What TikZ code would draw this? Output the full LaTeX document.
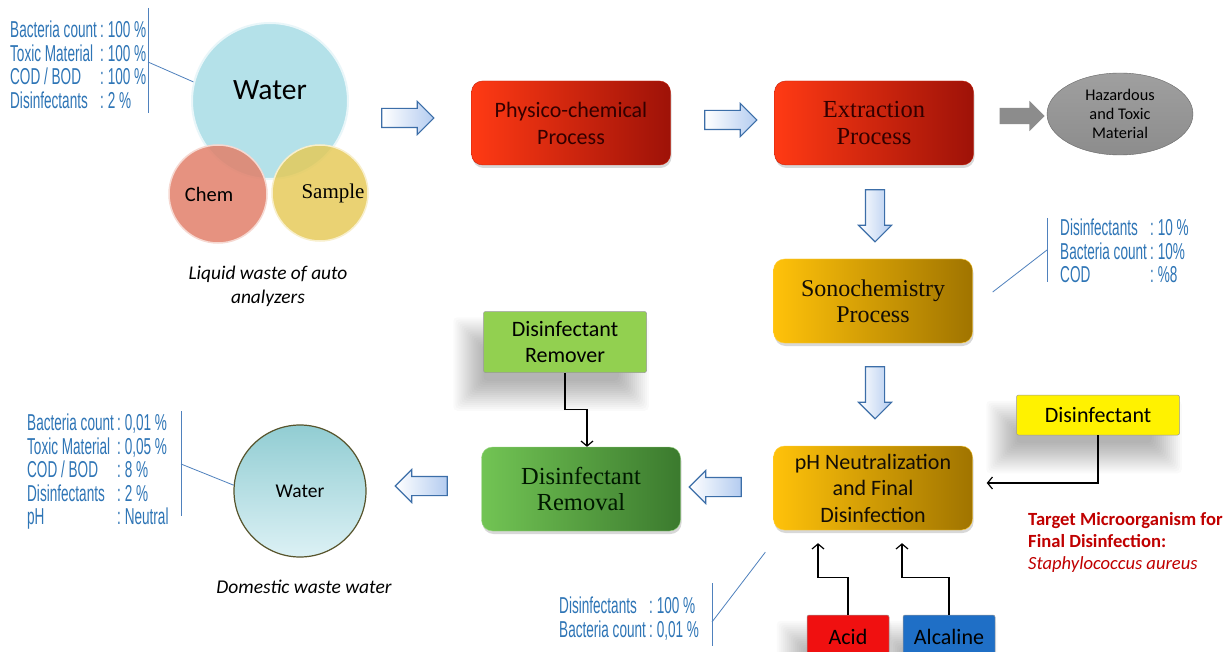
\documentclass[tikz,border=0pt]{standalone}
\usepackage{fontspec}
\setmainfont{Carlito}
\newfontfamily\cambria{Liberation Serif}
\newfontfamily\agency[FakeStretch=0.59]{Liberation Sans}
\usetikzlibrary{shapes.geometric,shapes.arrows,shadows,backgrounds,arrows.meta,positioning}

\definecolor{redL}{HTML}{FF3A14}
\definecolor{redR}{HTML}{9E1208}
\definecolor{goldL}{HTML}{FFC20A}
\definecolor{goldR}{HTML}{A07400}
\definecolor{greenL}{HTML}{72C454}
\definecolor{greenR}{HTML}{3B7A2E}
\definecolor{remgreen}{HTML}{92D050}
\definecolor{acidred}{HTML}{F01010}
\definecolor{alcblue}{HTML}{1F6FC6}
\definecolor{statblue}{HTML}{2E75B6}
\definecolor{calloutline}{HTML}{4F81BD}
\definecolor{arrowedge}{HTML}{3C6EA8}
\definecolor{arrowfill}{HTML}{B4CCF0}
\definecolor{targetred}{HTML}{C00000}
\definecolor{waterblue}{HTML}{A8DCE6}
\definecolor{chemred}{HTML}{E2806A}
\definecolor{sampleyellow}{HTML}{E6C955}

\newcommand\statrow[2]{\makebox[90pt][l]{#1}:\,#2}
% soft shadow behind an input box
\newcommand\softshadow[1]{%
  \foreach \k in {-14,-12,...,16}
    \fill[black, opacity=0.02, rounded corners=4pt]
      ([shift={(-14pt-\k pt,-22pt-\k pt)}]#1.south west) rectangle ([shift={(-14pt+\k pt,-22pt+\k pt)}]#1.north east);}

\begin{document}
\begin{tikzpicture}[x=1pt,y=-1pt,
    process/.style={rounded corners=11pt, minimum width=199pt, minimum height=84pt, align=center, inner sep=2pt,
      drop shadow={shadow xshift=1pt, shadow yshift=-3pt, opacity=0.3}},
    redproc/.style={process, left color=redL, right color=redR, draw=redR!60!redL, text=black!80!red},
    goldproc/.style={process, left color=goldL, right color=goldR, draw=goldL!80!white, text=black!90!brown},
    greenproc/.style={process, left color=greenL, right color=greenR, draw=greenL!70!white, text=black!90!green},
    inputbox/.style={rounded corners=2pt, align=center, inner sep=2pt, draw=white!60!black, line width=0.5pt,
      font=\fontsize{22}{26}\selectfont},
    blockarrow/.style={single arrow, draw=arrowedge, line width=1.1pt, left color=white, right color=arrowfill,
      minimum height=52pt, inner sep=9pt, single arrow head extend=7pt},
    line/.style={draw, line width=1.2pt, -{Straight Barb[length=5pt,width=12pt,line width=1.2pt]}},
    callout/.style={draw=calloutline, line width=0.8pt},
    stats/.style={anchor=north west, inner sep=0pt, align=left, text=statblue, font=\agency\fontsize{23}{23.4}\selectfont}]

  \useasboundingbox (0,0) rectangle (1231,652);

  % input water
  \node[circle, minimum size=156pt, inner sep=0pt, fill=waterblue, fill opacity=0.85, text opacity=1,
        draw=white!75!waterblue, line width=2pt, font=\fontsize{29.5}{30}\selectfont] (water) at (270,101) {\raisebox{22pt}{Water}};
  \node[circle, minimum size=98pt, inner sep=0pt, fill=chemred, fill opacity=0.85, text opacity=1,
        draw=white!70!chemred, line width=1.5pt, font=\fontsize{20.5}{22}\selectfont] (chem) at (218,194) {\hspace*{-18pt}\raisebox{-6pt}{Chem}};
  \node[circle, minimum size=96pt, inner sep=0pt, fill=sampleyellow, fill opacity=0.82, text opacity=1,
        draw=white!70!sampleyellow, line width=1.5pt, font=\cambria\fontsize{21}{22}\selectfont] (sample) at (320,193) {\hspace*{26pt}Sample};
  \node[align=center, font=\itshape\fontsize{19.4}{24}\selectfont] (inputlabel) at (268,286) {Liquid waste of auto\\analyzers};

  % process chain
  \node[redproc, font=\fontsize{22}{27}\selectfont] (physico) at (571,123) {Physico-chemical\\Process};
  \node[redproc, font=\cambria\fontsize{24.5}{27}\selectfont] (extract) at (874,123) {Extraction\\Process};
  \node[ellipse, minimum width=146pt, minimum height=82pt, inner sep=0pt, align=center, top color=gray!75, bottom color=gray!110!black,
        draw=black!60, font=\fontsize{16.3}{19}\selectfont] (hazard) at (1120,114) {Hazardous\\and Toxic\\Material};
  \node[goldproc, font=\cambria\fontsize{24}{26}\selectfont] (sono) at (873,301) {Sonochemistry\\Process};
  \node[goldproc, font=\fontsize{22}{26.5}\selectfont] (neutral) at (873,488) {pH Neutralization\\and Final\\Disinfection};
  \node[greenproc, font=\cambria\fontsize{24.5}{26}\selectfont] (removal) at (581,489) {Disinfectant\\Removal};

  % inputs to the processes
  \node[inputbox, fill=remgreen, minimum width=163pt, minimum height=61pt] (remover) at (565,342) {Disinfectant\\Remover};
  \node[inputbox, fill=yellow, minimum width=163pt, minimum height=40pt] (disinfectant) at (1098,415) {Disinfectant};
  \node[inputbox, fill=acidred, minimum width=82pt, minimum height=44pt] (acid) at (848,637) {Acid};
  \node[inputbox, fill=alcblue, minimum width=92pt, minimum height=44pt] (alcaline) at (949,637) {Alcaline};

  \begin{scope}[on background layer]
    \fill[white] (0,0) rectangle (1231,652);
    \softshadow{remover}
    \softshadow{disinfectant}
    \softshadow{acid}
    \softshadow{alcaline}
  \end{scope}

  % output water
  \node[circle, minimum size=132pt, inner sep=0pt, top color=waterblue!70!teal!80, bottom color=waterblue!40!white,
        draw=olive!50!black, line width=1.2pt, font=\fontsize{19.5}{20}\selectfont] (water2) at (300,491) {Water};
  \node[font=\itshape\fontsize{19.5}{22}\selectfont] (outputlabel) at (304,587) {Domestic waste water};

  % flow arrows
  \node[blockarrow] (a1) at (403,118) {};
  \node[blockarrow] (a2) at (726,120) {};
  \node[single arrow, fill=gray!90, minimum height=45pt, inner sep=8pt, single arrow head extend=7pt] (a3) at (1018,116) {};
  \node[blockarrow, rotate=-90] (a4) at (875,211) {};
  \node[blockarrow, rotate=-90] (a5) at (875,388) {};
  \node[blockarrow, rotate=180] (a6) at (720,487) {};
  \node[blockarrow, rotate=180] (a7) at (426,486) {};

  % feed lines
  \coordinate (disinfin) at ([shift={(14,-5)}]neutral.east);
  \coordinate (acidin) at ([shift={(-55,13)}]neutral.south);
  \coordinate (alcin) at ([shift={(29,13)}]neutral.south);
  \path[line] (remover.south) -- ++(0,37) -| ([xshift=6pt]removal.north);
  \path[line] (disinfectant.south) |- (disinfin);
  \path[line] (acid.north) -- ++(0,-37) -| (acidin);
  \path[line] (alcaline.north) -- ++(0,-37) -| (alcin);

  % measured values
  \node[stats] (statsin) at (10,21) {\statrow{Bacteria count}{100 \%}\\\statrow{Toxic Material}{100 \%}\\
    \statrow{COD / BOD}{100 \%}\\\statrow{Disinfectants}{2 \%}};
  \coordinate (barin1) at (148,8);
  \coordinate (barin2) at (148,113);
  \coordinate (barin) at (148,62);
  \draw[callout] (barin1) -- (barin2);
  \draw[callout] (barin) -- (water.166);

  \node[stats] (statssono) at (1060,219) {\statrow{Disinfectants}{10 \%}\\\statrow{Bacteria count}{10\%}\\\statrow{COD}{\%8}};
  \coordinate (barsono1) at (1047,218);
  \coordinate (barsono2) at (1047,282);
  \coordinate (barsono) at (1047,250);
  \draw[callout] (barsono1) -- (barsono2);
  \draw[callout] (barsono) -- ([shift={(20,-9)}]sono.east);

  \node[stats] (statsneutral) at (559,597) {\statrow{Disinfectants}{100 \%}\\\statrow{Bacteria count}{0,01 \%}};
  \coordinate (barneu1) at (712,583);
  \coordinate (barneu2) at (712,646);
  \coordinate (barneu) at (712,622);
  \draw[callout] (barneu1) -- (barneu2);
  \draw[callout] (barneu) -- ([shift={(-8,22)}]neutral.south west);

  \node[stats] (statsout) at (27,414) {\statrow{Bacteria count}{0,01 \%}\\\statrow{Toxic Material}{0,05 \%}\\
    \statrow{COD / BOD}{8 \%}\\\statrow{Disinfectants}{2 \%}\\\statrow{pH}{Neutral}};
  \coordinate (barout1) at (181,411);
  \coordinate (barout2) at (181,516);
  \coordinate (barout) at (181,464);
  \draw[callout] (barout1) -- (barout2);
  \draw[callout] (barout) -- (water2.175);

  % target organism
  \node[anchor=north west, inner sep=0pt, align=left, text=targetred, font=\bfseries\fontsize{18.6}{22}\selectfont] (target) at (1028,512)
    {Target Microorganism for\\Final Disinfection:\\{\mdseries\itshape Staphylococcus aureus}};
\end{tikzpicture}
\end{document}
